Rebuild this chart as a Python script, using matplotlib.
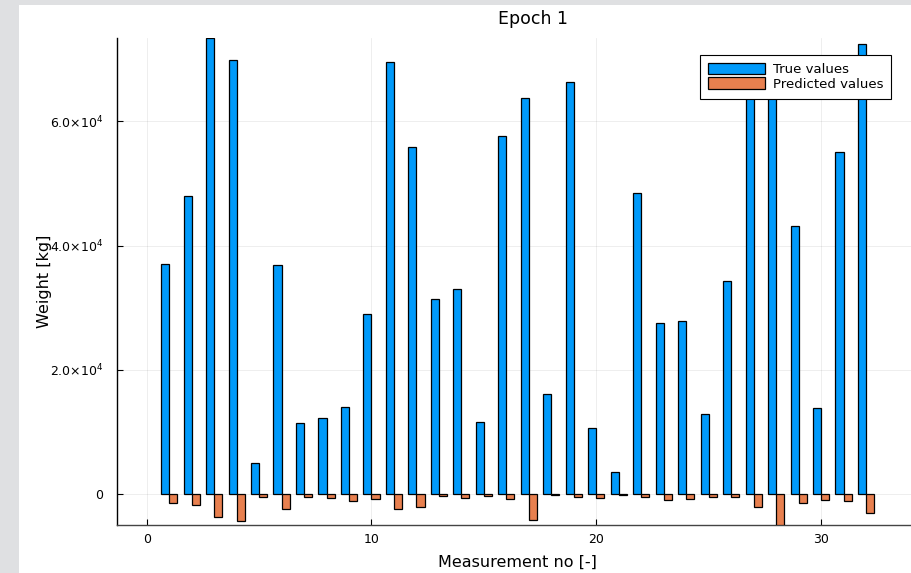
import matplotlib
matplotlib.use("Agg")
import matplotlib.pyplot as plt
import numpy as np
from matplotlib.patches import Rectangle
from matplotlib.ticker import FuncFormatter

measurement = np.arange(1, 33)
true_values = [37000, 48000, 73400, 69900, 5100, 36900, 11500, 12200,
               14100, 29000, 69500, 55800, 31400, 33000, 11600, 57600,
               63800, 16100, 66300, 10700, 3500, 48400, 27600, 27900,
               12900, 34300, 66000, 65000, 43200, 13800, 55100, 72500]
predicted_values = [-1400, -1700, -3600, -4350, -380, -2370, -430, -650,
                    -1080, -760, -2420, -2040, -250, -600, -270, -700,
                    -4130, -150, -430, -650, -150, -500, -970, -760,
                    -430, -500, -2040, -4950, -1350, -860, -1080, -2960]
y_ticks = [0, 20000, 40000, 60000]
x_ticks = [0, 10, 20, 30]

W, H = 911, 573
fig = plt.figure(figsize=(W / 100, H / 100), dpi=100)
fig.patch.set_facecolor("#dfe0e2")
# white canvas of the screenshot, gray frame at top and left
fig.patches.append(Rectangle((19 / W, 0), 1 - 19 / W, 1 - 5 / H,
                             transform=fig.transFigure, facecolor="white",
                             edgecolor="none", zorder=-10))

ax = fig.add_axes([117 / W, 48 / H, 1 - 117 / W, 487 / H])
ax.set_facecolor("none")

bw = 0.36
ax.bar(measurement - bw / 2, true_values, width=bw, color="#009afa",
       edgecolor="black", linewidth=0.9, label="True values", zorder=3)
ax.bar(measurement + bw / 2, predicted_values, width=bw, color="#e8804f",
       edgecolor="black", linewidth=0.9, label="Predicted values", zorder=3)

ax.set_xlim(-1.32, 34.0)
ax.set_ylim(min(predicted_values), max(true_values))
ax.set_xticks(x_ticks)
ax.set_yticks(y_ticks)


def sci(v, pos):
    if v == 0:
        return "0"
    e = int(np.floor(np.log10(abs(v))))
    return r"$%.1f{\times}10^{%d}$" % (v / 10 ** e, e)


ax.yaxis.set_major_formatter(FuncFormatter(sci))
ax.tick_params(direction="in", length=4, width=0.8, labelsize=9,
               colors="black")
ax.tick_params(axis="y", pad=10)
ax.tick_params(axis="x", pad=6)
ax.grid(True, color="black", alpha=0.08, linewidth=0.6, zorder=0)

for s in ["top", "right"]:
    ax.spines[s].set_visible(False)
for s in ["left", "bottom"]:
    ax.spines[s].set_linewidth(1.0)
ax.spines["bottom"].set_color("#444444")

ax.set_title("Epoch 1", fontsize=12.5, x=(533 - 117) / (W - 117), pad=10)
ax.set_xlabel("Measurement no [-]", fontsize=11.5)
ax.set_ylabel("Weight [kg]", fontsize=11.5)
ax.xaxis.set_label_coords((517 - 117) / (W - 117), -(555 - 525) / 487)
ax.yaxis.set_label_coords(-(117 - 52) / (W - 117), 0.5)

leg = ax.legend(loc="upper right", bbox_to_anchor=(891 / W, 1 - 55 / H),
                bbox_transform=fig.transFigure, fontsize=9.5, frameon=True,
                fancybox=False, framealpha=1, edgecolor="black",
                handlelength=4.3, handleheight=0.95, handletextpad=0.6,
                labelspacing=0.1, borderpad=0.6, borderaxespad=0)
leg.get_frame().set_linewidth(0.8)

fig.savefig("out.png", dpi=100, facecolor=fig.get_facecolor())
